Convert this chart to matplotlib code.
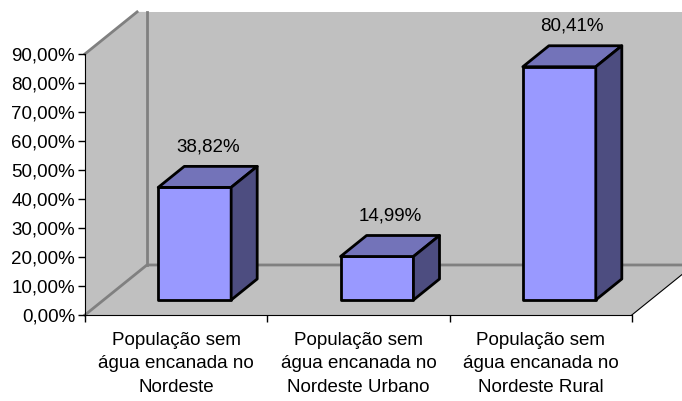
import matplotlib.pyplot as plt
from matplotlib.patches import Polygon

plt.rcParams['font.family'] = ['Liberation Sans', 'DejaVu Sans']

categories = ["População sem\nágua encanada no\nNordeste",
              "População sem\nágua encanada no\nNordeste Urbano",
              "População sem\nágua encanada no\nNordeste Rural"]
values = [38.82, 14.99, 80.41]
yticks = [0, 10, 20, 30, 40, 50, 60, 70, 80, 90]

# 3d look: depth vector of the box (x in categories, y in percent)
DX, DY = 0.34, 17.24
Y_MAX = 90
Y_CLIP = 104.5
BAR_W = 0.4
D0, D1 = 0.30, 0.72       # bar front/back depth as fraction of the floor depth

wall = "#c0c0c0"
edge = "#808080"
front_c, top_c, side_c = "#9999ff", "#7373b9", "#4d4d80"


def pct(v):
    return f"{v:.2f}%".replace(".", ",")


fig = plt.figure(figsize=(6.82, 4.01), dpi=100)
ax = fig.add_axes([0, 0, 1, 1])
ax.set_xlim(-0.466, 3.275)
ax.set_ylim(-29.66, 108.6)
n = len(categories)

# walls and floor
t = (Y_CLIP - Y_MAX) / DY
ax.add_patch(Polygon([(DX, DY), (n + DX, DY), (n + DX, Y_CLIP), (DX, Y_CLIP)],
                     fc=wall, ec="none", zorder=0))
ax.add_patch(Polygon([(0, 0), (DX, DY), (DX, Y_CLIP), (t * DX, Y_CLIP), (0, Y_MAX)],
                     fc=wall, ec="none", zorder=0))
ax.add_patch(Polygon([(0, 0), (n, 0), (n + DX, DY), (DX, DY)],
                     fc=wall, ec="none", zorder=0))
ax.plot([0, DX, n + DX], [0, DY, DY], color=edge, lw=2, zorder=0.5)
ax.plot([DX, DX], [DY, Y_CLIP], color=edge, lw=2, zorder=0.5)
ax.plot([0, t * DX], [Y_MAX, Y_CLIP], color=edge, lw=2, zorder=0.5)
ax.plot([n, n + DX], [0, DY], color="black", lw=0.8, zorder=0.5)

# bars
for i, v in enumerate(values):
    x0 = i + 0.5 - BAR_W / 2 + D0 * DX
    x1 = x0 + BAR_W
    y0 = D0 * DY
    ddx, ddy = (D1 - D0) * DX, (D1 - D0) * DY
    kw = dict(ec="black", lw=2, joinstyle="round", zorder=2)
    ax.add_patch(Polygon([(x0, y0), (x1, y0), (x1, y0 + v), (x0, y0 + v)], fc=front_c, **kw))
    ax.add_patch(Polygon([(x0, y0 + v), (x1, y0 + v), (x1 + ddx, y0 + v + ddy),
                          (x0 + ddx, y0 + v + ddy)], fc=top_c, **kw))
    ax.add_patch(Polygon([(x1, y0), (x1 + ddx, y0 + ddy), (x1 + ddx, y0 + v + ddy),
                          (x1, y0 + v)], fc=side_c, **kw))
    ax.text((x0 + x1) / 2 + ddx / 2, y0 + v + ddy + 6.8, pct(v),
            ha="center", va="center", fontsize=13.5, color="black", zorder=3)

# axes
for s in ["top", "right"]:
    ax.spines[s].set_visible(False)
ax.spines["left"].set_position(("data", 0))
ax.spines["left"].set_bounds(0, Y_MAX)
ax.spines["bottom"].set_position(("data", 0))
ax.spines["bottom"].set_bounds(0, n)
ax.spines["left"].set_color("black")
ax.spines["bottom"].set_color("black")
ax.set_yticks(yticks)
ax.set_yticklabels([pct(v) for v in yticks], fontsize=13.5)
ax.tick_params(axis="y", direction="out", length=5, width=1, pad=2)
ax.set_xticks(range(n + 1))
ax.set_xticklabels([])
ax.tick_params(axis="x", which="major", direction="out", length=5, width=1)
ax.set_xticks([i + 0.5 for i in range(n)], minor=True)
ax.set_xticklabels(categories, minor=True, fontsize=13.5, linespacing=1.5)
ax.tick_params(axis="x", which="minor", length=0, pad=12)

fig.savefig("out.png", dpi=100)
